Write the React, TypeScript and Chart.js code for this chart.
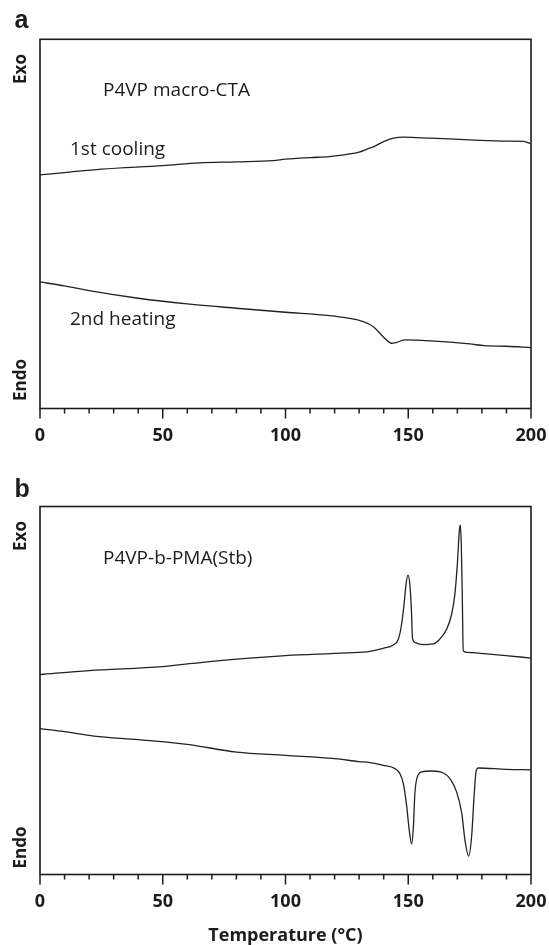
import React, { useEffect, useRef } from "react";
import { Chart, registerables } from "chart.js";

Chart.register(...registerables);

// ---------- Data (x = temperature °C, y = heat flow, arbitrary units) ----------
const xTicksMajor = [0, 50, 100, 150, 200];

// Panel a: P4VP macro-CTA
const aCoolX = [0, 10, 25, 50, 65, 80, 95, 100, 110, 118, 125, 130, 133, 136, 140, 144, 148, 159, 175, 190, 197, 200];
const aCoolY = [233.5, 235.8, 239.2, 242.8, 245.5, 246.5, 247.8, 249.2, 250.8, 251.8, 254, 256.2, 259, 261.8, 266.8, 270.2, 271.2, 270.2, 268.5, 267.2, 267, 264.5];
const aHeatX = [0, 10, 20, 40, 60, 80, 100, 118, 125, 131.7, 135.8, 139.8, 143.2, 145.3, 148.7, 159, 175, 181, 190, 200];
const aHeatY = [126.5, 122.5, 117.8, 110.2, 104.5, 100.2, 96.2, 92.8, 90.5, 86.8, 81.8, 71.8, 65.2, 66.2, 68.5, 67.5, 64.5, 62.8, 62.2, 60.8];

// Panel b: P4VP-b-PMA(Stb)
const bCoolX = [0, 20, 50, 70, 100, 125, 134.4, 139.8, 143.9, 146, 147.3, 148.3, 149.1, 149.9, 150.7, 151.3, 151.7, 152.7, 156.1, 160.2, 162.9, 165.7, 167.7, 169, 170, 170.8, 171.2, 171.6, 172, 172.4, 173.8, 181.9, 189.8, 200];
const bCoolY = [200.5, 204.5, 208.5, 213.8, 219.5, 222.2, 223.8, 226.8, 230.2, 236.2, 251.2, 271.2, 291.2, 300.2, 289.5, 264.5, 237.8, 232.8, 230.5, 231.2, 236.2, 246.2, 261.2, 281.2, 311.2, 344.5, 350.5, 331.2, 281.2, 224.5, 222.8, 221.2, 219.5, 217];
const bHeatX = [0, 10, 22, 40, 60, 80, 100, 120, 130, 134.4, 139.8, 144.6, 146.6, 148, 149.4, 150.4, 151.4, 152.1, 152.7, 153.7, 155.5, 159.6, 164.3, 167, 169.7, 171.8, 173.1, 174.6, 175.8, 176.8, 177.6, 178.5, 189.8, 200];
const bHeatY = [146.2, 143.2, 138.8, 135.2, 130.5, 122.8, 119.5, 116.2, 113.2, 112.2, 109.5, 106.2, 101.2, 91.2, 67.8, 44.5, 30.5, 47.8, 81.2, 97.8, 102.8, 103.8, 101.8, 96.2, 82.8, 61.2, 34.5, 18.5, 37.8, 77.8, 102.8, 106.8, 105.5, 105];

const FONT = "'Open Sans', 'Noto Sans', sans-serif";
const INK = "#1c1c1c";

type TextItem = { text: string; x: number; y: number; font: string; rotate?: boolean; align?: CanvasTextAlign; baseline?: CanvasTextBaseline };

function makeDecor(texts: TextItem[]) {
  return {
    id: "decor",
    afterDraw(chart: any) {
      const { ctx, chartArea } = chart;
      const xs = chart.scales.x;
      ctx.save();
      // frame
      ctx.strokeStyle = INK;
      ctx.lineWidth = 1.6;
      ctx.strokeRect(chartArea.left, chartArea.top, chartArea.right - chartArea.left, chartArea.bottom - chartArea.top);
      // ticks (major every 50, minor every 10)
      ctx.lineWidth = 1.5;
      for (let v = 0; v <= 200; v += 10) {
        const px = xs.getPixelForValue(v);
        const len = v % 50 === 0 ? 10 : 5;
        ctx.beginPath();
        ctx.moveTo(px, chartArea.bottom);
        ctx.lineTo(px, chartArea.bottom + len);
        ctx.stroke();
      }
      // texts
      ctx.fillStyle = INK;
      for (const t of texts) {
        ctx.save();
        ctx.font = t.font;
        ctx.translate(t.x, t.y);
        if (t.rotate) ctx.rotate(-Math.PI / 2);
        ctx.textAlign = t.align || "left";
        ctx.textBaseline = t.baseline || "middle";
        ctx.fillText(t.text, 0, 0);
        ctx.restore();
      }
      ctx.restore();
    },
  };
}

function buildConfig(
  series: { x: number[]; y: number[] }[],
  padTop: number,
  axisHeight: number,
  showTitle: boolean,
  texts: TextItem[]
) {
  return {
    type: "line" as const,
    data: {
      datasets: series.map((s) => ({
        data: s.x.map((x, i) => ({ x, y: s.y[i] })),
        borderColor: "#222",
        borderWidth: 1.3,
        pointRadius: 0,
        fill: false,
        cubicInterpolationMode: "monotone" as const,
      })),
    },
    options: {
      animation: false as const,
      responsive: false,
      maintainAspectRatio: false,
      layout: { padding: { left: 40, right: 18, top: padTop, bottom: 0 } },
      plugins: { legend: { display: false }, tooltip: { enabled: false } },
      scales: {
        x: {
          type: "linear" as const,
          min: 0,
          max: 200,
          afterFit: (s: any) => {
            s.height = axisHeight;
          },
          afterBuildTicks: (s: any) => {
            s.ticks = xTicksMajor.map((v) => ({ value: v }));
          },
          grid: { display: false, drawTicks: true, tickLength: 17 },
          border: { display: false },
          ticks: {
            color: INK,
            font: { family: FONT, size: 18, weight: "bold" as const },
            padding: 0,
            maxRotation: 0,
            autoSkip: false,
          },
          title: {
            display: showTitle,
            text: "Temperature (°C)",
            color: INK,
            font: { family: FONT, size: 18, weight: "bold" as const, lineHeight: 1.2 },
            padding: { top: 0, bottom: -2 },
          },
        },
        y: { display: false, min: 0, max: 369 },
      },
    },
    plugins: [makeDecor(texts)],
  };
}

function Panel({ top, height, config }: { top: number; height: number; config: any }) {
  const ref = useRef<HTMLCanvasElement>(null);
  useEffect(() => {
    if (!ref.current) return;
    const chart = new Chart(ref.current, config);
    return () => chart.destroy();
  }, []);
  return (
    <canvas
      ref={ref}
      width={549}
      height={height}
      style={{ position: "absolute", left: 0, top, width: 549, height, display: "block" }}
    />
  );
}

const sideFont = `bold 17px ${FONT}`;
const letterFont = "bold 25px 'Liberation Sans', Arial, sans-serif";
const noteFont = `19px ${FONT}`;

const configA = buildConfig(
  [
    { x: aCoolX, y: aCoolY },
    { x: aHeatX, y: aHeatY },
  ],
  39.3,
  61.5,
  false,
  [
    { text: "a", x: 14.5, y: 28.3, font: letterFont, baseline: "alphabetic" },
    { text: "Exo", x: 21.5, y: 69, font: sideFont, rotate: true, align: "center" },
    { text: "Endo", x: 21.5, y: 380, font: sideFont, rotate: true, align: "center" },
    { text: "P4VP macro-CTA", x: 103, y: 90.7, font: noteFont },
    { text: "1st cooling", x: 70, y: 150, font: noteFont },
    { text: "2nd heating", x: 70, y: 320, font: noteFont },
  ]
);

const configB = buildConfig(
  [
    { x: bCoolX, y: bCoolY },
    { x: bHeatX, y: bHeatY },
  ],
  36.5,
  70.5,
  true,
  [
    { text: "b", x: 14.5, y: 27, font: letterFont, baseline: "alphabetic" },
    { text: "Exo", x: 21.5, y: 66, font: sideFont, rotate: true, align: "center" },
    { text: "Endo", x: 21.5, y: 377.5, font: sideFont, rotate: true, align: "center" },
    { text: "P4VP-b-PMA(Stb)", x: 103, y: 88.3, font: noteFont },
  ]
);

export default function App() {
  return (
    <div style={{ position: "absolute", left: 0, top: 0, width: 549, height: 945, background: "#fff" }}>
      <Panel top={0} height={470} config={configA} />
      <Panel top={470} height={475} config={configB} />
    </div>
  );
}
